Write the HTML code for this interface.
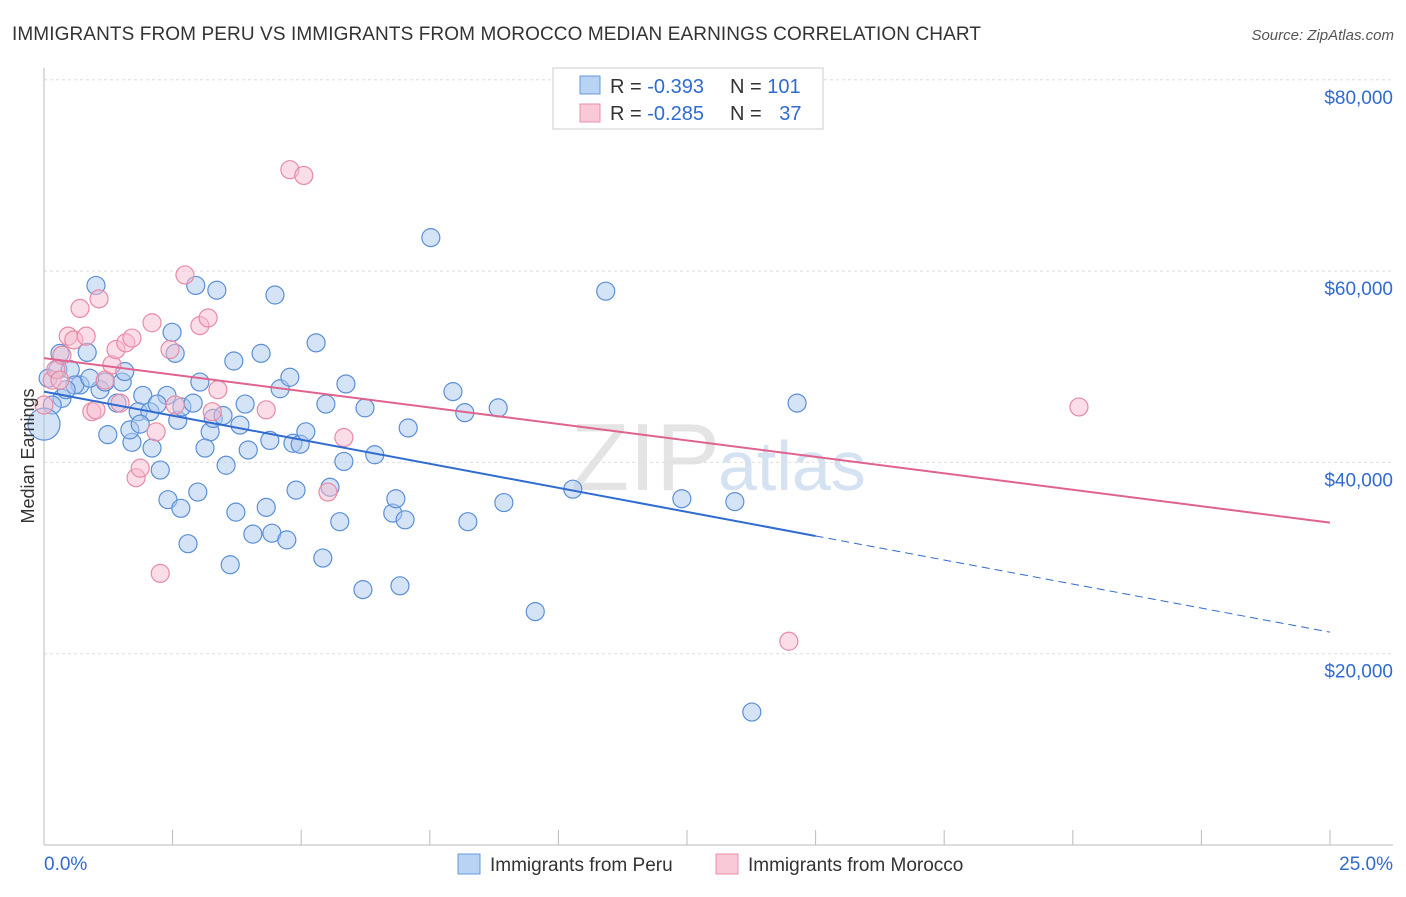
<!DOCTYPE html>
<html><head><meta charset="utf-8"><style>
body{margin:0;background:#fff;font-family:"Liberation Sans",sans-serif}
svg text{font-family:"Liberation Sans",sans-serif}
</style></head><body>
<svg id="chart" width="1406" height="892">
<text x="12" y="40" font-size="19" fill="#333" letter-spacing="0.1">IMMIGRANTS FROM PERU VS IMMIGRANTS FROM MOROCCO MEDIAN EARNINGS CORRELATION CHART</text>
<text x="1394" y="40" font-size="15" fill="#555" text-anchor="end" font-style="italic">Source: ZipAtlas.com</text>
<text x="720" y="490" font-size="96" fill="#e4e4e4" text-anchor="end" font-family="Liberation Serif">ZIP</text>
<text x="718" y="490" font-size="70" fill="#d4e2f2">atlas</text>
<g id="grid"></g><g id="axes"></g><g id="marks"></g>
<text transform="translate(34,456) rotate(-90)" font-size="18" fill="#333" text-anchor="middle">Median Earnings</text>
<g>
<rect x="553" y="68" width="270" height="61" fill="#fff" stroke="#ccc"/>
<rect x="580" y="76" width="20" height="18" fill="#b8d3f3" stroke="#6a9ad8"/>
<rect x="580" y="104" width="20" height="18" fill="#f9c9d7" stroke="#e98fab"/>
<text x="610" y="93" font-size="20" fill="#333">R = <tspan fill="#2f6bd0">-0.393</tspan></text>
<text x="730" y="93" font-size="20" fill="#333">N = <tspan fill="#2f6bd0">101</tspan></text>
<text x="610" y="120" font-size="20" fill="#333">R = <tspan fill="#2f6bd0">-0.285</tspan></text>
<text x="730" y="120" font-size="20" fill="#333">N = <tspan fill="#2f6bd0" dx="12">37</tspan></text>
</g>
<g>
<rect x="458" y="854" width="22" height="20" fill="#b8d3f3" stroke="#6a9ad8"/>
<text x="490" y="871" font-size="19" fill="#333">Immigrants from Peru</text>
<rect x="716" y="854" width="22" height="20" fill="#f9c9d7" stroke="#e98fab"/>
<text x="748" y="871" font-size="19" fill="#333">Immigrants from Morocco</text>
</g>
</svg>
<script>
const yTicks=[20000,40000,60000,80000];
const yTickLabels=["$20,000","$40,000","$60,000","$80,000"];
const xTickLabels=["0.0%","25.0%"];
const peruX=[1.01,0.31,0.84,0.08,0.27,0.51,0.70,1.09,0.60,0.35,1.19,1.52,1.57,1.42,1.92,1.83,2.06,1.24,1.71,1.67,2.10,2.26,2.39,2.49,2.55,2.60,2.68,2.41,2.66,2.80,2.99,2.90,3.03,2.95,3.36,3.23,3.29,3.48,3.13,3.54,3.62,3.69,3.73,3.81,3.91,3.97,4.06,4.22,4.32,4.39,4.43,4.49,4.59,4.72,4.78,4.84,4.90,4.98,5.09,5.29,5.42,5.48,5.75,5.56,5.87,5.83,6.20,6.24,6.43,6.78,6.84,6.92,7.02,7.08,7.52,7.95,8.18,8.24,8.83,8.94,9.55,10.28,10.92,12.40,13.43,13.76,14.64,0.16,0.43,0.89,1.87,2.20];
const peruY=[58500,51400,51500,48800,49700,49700,48100,47600,48100,46700,48400,48400,49500,46200,47000,45300,45300,42900,42100,43400,41500,39200,47000,53600,51400,44400,45800,36100,35200,31500,36900,46200,48400,58500,58000,43200,44600,44900,41500,39700,29300,50600,34800,43900,46100,41300,32500,51400,35300,42300,32600,57500,47700,31900,48900,42000,37100,41900,43200,52500,30000,46100,33800,37400,48200,40100,26700,45700,40800,34700,36200,27100,34000,43600,63500,47400,45200,33800,45700,35800,24400,37200,57900,36200,35900,13900,46200,46000,47600,48800,44000,46100];
const morX=[0,0.16,0.23,0.35,0.47,0.58,0.70,0.82,0.93,1.01,1.07,1.19,1.32,1.40,1.48,1.59,1.71,1.79,1.87,2.10,2.18,2.45,2.55,2.74,3.03,3.19,3.27,3.38,4.32,4.78,5.05,5.52,5.83,14.48,20.12,2.26,0.31];
const morY=[46000,48600,49700,51200,53200,52800,56100,53200,45300,45500,57100,48600,50200,51800,46200,52500,53000,38400,39400,54600,43200,51800,46000,59600,54300,55100,45300,47600,45500,70600,70000,36900,42600,21300,45800,28400,48600];
const bigX=[0.0], bigY=[44000];
const peruTrend=[47400,-1006], morTrend=[50900,-688];
const NS="http://www.w3.org/2000/svg";
const X=v=>44+v/25*1286, Y=v=>845-v/20000*191.3;
function mk(tag,attrs,parent){const e=document.createElementNS(NS,tag);for(const k in attrs)e.setAttribute(k,attrs[k]);document.getElementById(parent).appendChild(e);return e;}
yTicks.forEach((t,i)=>{
 const l=mk('line',{x1:44,x2:1393,y1:Y(t),y2:Y(t),stroke:'#ddd','stroke-dasharray':'3,3'},'grid');
 
 
 const tx=mk('text',{x:1393,y:Y(t)+24,'font-size':19,fill:'#2f6bd0','text-anchor':'end'},'axes');tx.textContent=yTickLabels[i];
 
 
});
const ax=mk('line',{x1:44,x2:44,y1:68,y2:845,stroke:'#bbb'},'axes');


const bx=mk('line',{x1:44,x2:1393,y1:845,y2:845,stroke:'#bbb'},'axes');


for(let i=0;i<=10;i++){const t=mk('line',{x1:X(i*2.5),x2:X(i*2.5),y1:830,y2:845,stroke:'#bbb'},'axes');
 
 }
[[0,'start'],[25,'end']].forEach((p,i)=>{const t=mk('text',{x:i?1393:44,y:870,'font-size':19,fill:'#2f6bd0','text-anchor':p[1]},'axes');t.textContent=xTickLabels[i];
 
 });
function dot(x,y,r,f,s,name){const c=mk('circle',{cx:X(x),cy:Y(y),r:r,fill:f,'fill-opacity':0.5,stroke:s,'stroke-width':1.2},'marks');
 
 }
peruX.forEach((x,i)=>dot(x,peruY[i],9,'#a9c8ee','#5b8fd6','point-peru'));
bigX.forEach((x,i)=>dot(x,bigY[i],16,'#a9c8ee','#5b8fd6','point-peru-large'));
morX.forEach((x,i)=>dot(x,morY[i],9,'#f6bccd','#e88aa6','point-morocco'));
const f=(t,x)=>t[0]+t[1]*x;
const l1=mk('line',{x1:X(0),y1:Y(f(peruTrend,0)),x2:X(15),y2:Y(f(peruTrend,15)),stroke:'#2f6bd0','stroke-width':2},'marks');


const l2=mk('line',{x1:X(15),y1:Y(f(peruTrend,15)),x2:X(25),y2:Y(f(peruTrend,25)),stroke:'#2f6bd0','stroke-width':1,'stroke-dasharray':'8,5'},'marks');


const l3=mk('line',{x1:X(0),y1:Y(f(morTrend,0)),x2:X(25),y2:Y(f(morTrend,25)),stroke:'#e0628e','stroke-width':2},'marks');


</script>
</body></html>
